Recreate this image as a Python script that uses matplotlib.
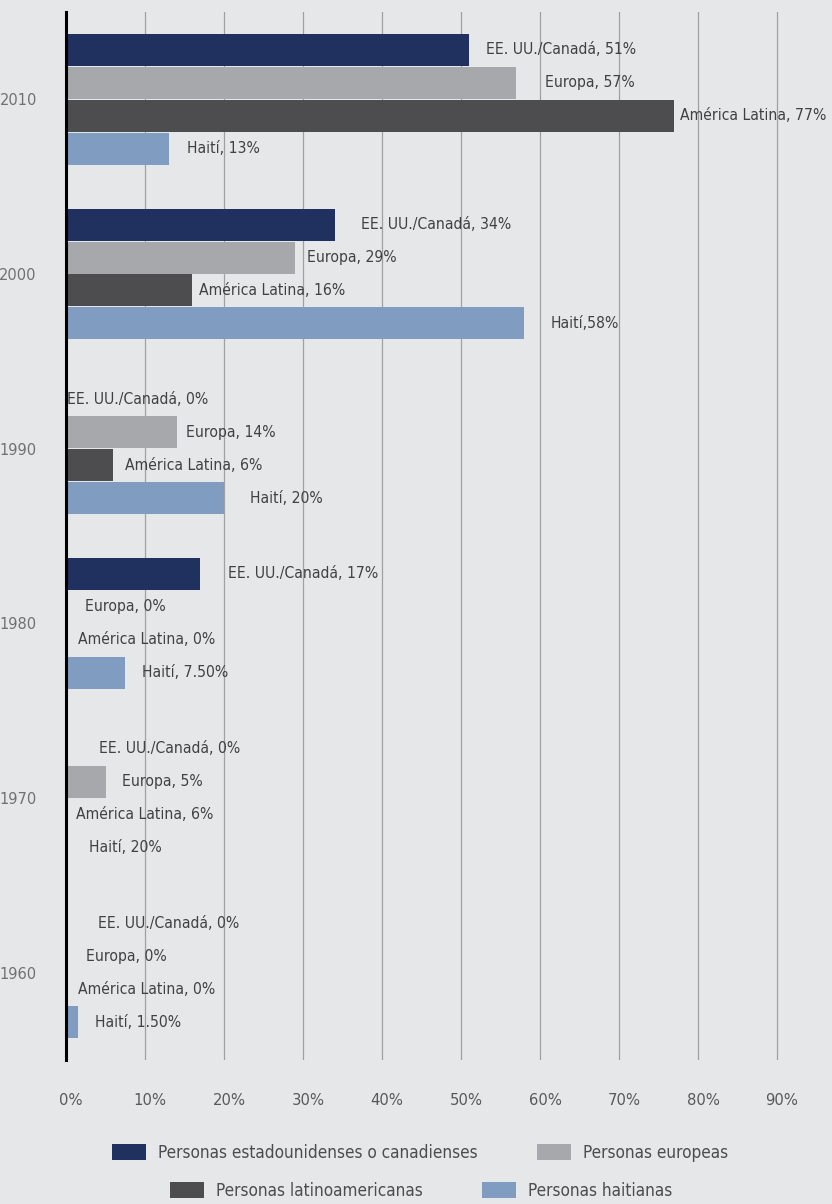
import matplotlib
matplotlib.use("Agg")
import matplotlib.pyplot as plt
import matplotlib.transforms as mtransforms
from matplotlib.patches import Patch
from matplotlib import font_manager as fm

# ---------------- data ----------------
decades = ["1960", "1970", "1980", "1990", "2000", "2010"]
series_names = ["Personas estadounidenses o canadienses", "Personas europeas",
                "Personas latinoamericanas", "Personas haitianas"]
usa_can = [0, 0, 17, 0, 34, 51]
europa = [0, 5, 0, 14, 29, 57]
america_latina = [0, 0, 0, 6, 16, 77]
haiti = [1.5, 0, 7.5, 20, 58, 13]

usa_can_labels = ["EE. UU./Canadá, 0%", "EE. UU./Canadá, 0%", "EE. UU./Canadá, 17%",
                  "EE. UU./Canadá, 0%", "EE. UU./Canadá, 34%", "EE. UU./Canadá, 51%"]
europa_labels = ["Europa, 0%", "Europa, 5%", "Europa, 0%", "Europa, 14%",
                 "Europa, 29%", "Europa, 57%"]
america_latina_labels = ["América Latina, 0%", "América Latina, 6%", "América Latina, 0%",
                         "América Latina, 6%", "América Latina, 16%", "América Latina, 77%"]
haiti_labels = ["Haití, 1.50%", "Haití, 20%", "Haití, 7.50%", "Haití, 20%",
                "Haití,58%", "Haití, 13%"]

x_ticks = [0, 10, 20, 30, 40, 50, 60, 70, 80, 90]
x_tick_labels = ["0%", "10%", "20%", "30%", "40%", "50%", "60%", "70%", "80%", "90%"]

# ---------------- style ----------------
colors = ["#21315f", "#a7a8ab", "#4d4d4f", "#819cc1"]
bg = "#e6e7e9"
# label gaps (pixels) from bar end, per series, per decade (1960..2010)
label_pad = [
    [32, 33, 28, 1, 26, 17],
    [20, 17, 19, 9, 12, 29],
    [12, 10, 12, 12, 7, 6],
    [17, 23, 17, 26, 26, 18],
]

# look for a condensed / narrow face
narrow = None
for f in fm.fontManager.ttflist:
    nm = (f.name + " " + f.fname).lower()
    if ("narrow" in nm or "condensed" in nm or f.stretch in ("condensed", "semi-condensed")) \
            and f.weight in (400, "normal", "regular") and f.style == "normal":
        narrow = f.name if f.stretch == "normal" else None
        if narrow is None:
            narrow = f.fname
        break

if narrow and narrow.endswith((".ttf", ".otf")):
    base_prop = fm.FontProperties(fname=narrow)
    plt.rcParams["font.family"] = ["DejaVu Sans"]
elif narrow:
    base_prop = fm.FontProperties(family=narrow)
    plt.rcParams["font.family"] = [narrow, "DejaVu Sans"]
else:
    base_prop = fm.FontProperties(family=["Liberation Sans", "DejaVu Sans"])
    plt.rcParams["font.family"] = ["Liberation Sans", "DejaVu Sans"]

fig = plt.figure(figsize=(8.32, 12.04), dpi=100, facecolor=bg)
renderer = fig.canvas.get_renderer()


def fit(text, target_px, ref=12.0):
    p = base_prop.copy()
    p.set_size(ref)
    t = fig.text(0, 0, text, fontproperties=p)
    w = t.get_window_extent(renderer).width
    t.remove()
    return ref * target_px / w


lab_size = min(fit("EE. UU./Canadá, 51%", 160), fit("América Latina, 77%", 146))
tick_size = min(fit("50%", 35), lab_size * 1.05)
year_size = fit("2010", 37)
leg_size = fit("Personas estadounidenses o canadienses", 320)


def prop(size):
    p = base_prop.copy()
    p.set_size(size)
    return p


ax = fig.add_axes([66 / 832, 1 - 1060 / 1204, 0.95 * 790 / 832, 1048 / 1204])
ax.set_facecolor(bg)

n = len(decades)
slot = 33 / 175
bar_h = 32 / 175
offsets = [1.5 * slot, 0.5 * slot, -0.5 * slot, -1.5 * slot]
all_vals = [usa_can, europa, america_latina, haiti]
all_labels = [usa_can_labels, europa_labels, america_latina_labels, haiti_labels]

for si in range(4):
    ys = [i + offsets[si] for i in range(n)]
    ax.barh(ys, all_vals[si], height=bar_h, color=colors[si], zorder=3)
    for i in range(n):
        ax.annotate(all_labels[si][i], xy=(all_vals[si][i], ys[i]),
                    xytext=(label_pad[si][i], 0), textcoords="offset pixels",
                    ha="left", va="center", fontproperties=prop(lab_size),
                    color="#414143", zorder=4)

ax.set_xlim(0, 95)
ax.set_ylim(-0.5, n - 0.5)
ax.set_xticks(x_ticks)
ax.set_xticklabels(x_tick_labels, fontproperties=prop(tick_size))
ax.set_yticks(range(n))
ax.set_yticklabels(decades, fontproperties=prop(year_size))
ax.tick_params(axis="x", length=0, pad=24, labelcolor="#58595b")
ax.tick_params(axis="y", length=0, pad=21, labelcolor="#707173")
off = mtransforms.ScaledTranslation(5 / 100, 0, fig.dpi_scale_trans)
for lab in ax.get_xticklabels():
    lab.set_transform(lab.get_transform() + off)

ax.grid(axis="x", color="#9fa0a2", linewidth=0.9, zorder=0)
ax.grid(axis="y", visible=False)
for s in ["top", "right", "bottom"]:
    ax.spines[s].set_visible(False)
ax.spines["left"].set_color("black")
ax.spines["left"].set_linewidth(2.2)
ax.spines["left"].set_zorder(5)

handles = [Patch(facecolor=c, edgecolor="none") for c in colors]
lp = prop(leg_size)
fs_px = leg_size * 100 / 72
common = dict(frameon=False, prop=lp, handlelength=34 / fs_px, handleheight=18 / fs_px,
              handletextpad=12 / fs_px, columnspacing=60 / fs_px, labelcolor="#4d4d4f",
              borderaxespad=0, borderpad=0)
fig.legend(handles[:2], series_names[:2], ncol=2, loc="center",
           bbox_to_anchor=(420 / 832, 1 - 1153 / 1204), **common)
fig.legend(handles[2:], series_names[2:], ncol=2, loc="center",
           bbox_to_anchor=(421 / 832, 1 - 1191 / 1204), **common)

fig.savefig("out.png", dpi=100, facecolor=bg)
